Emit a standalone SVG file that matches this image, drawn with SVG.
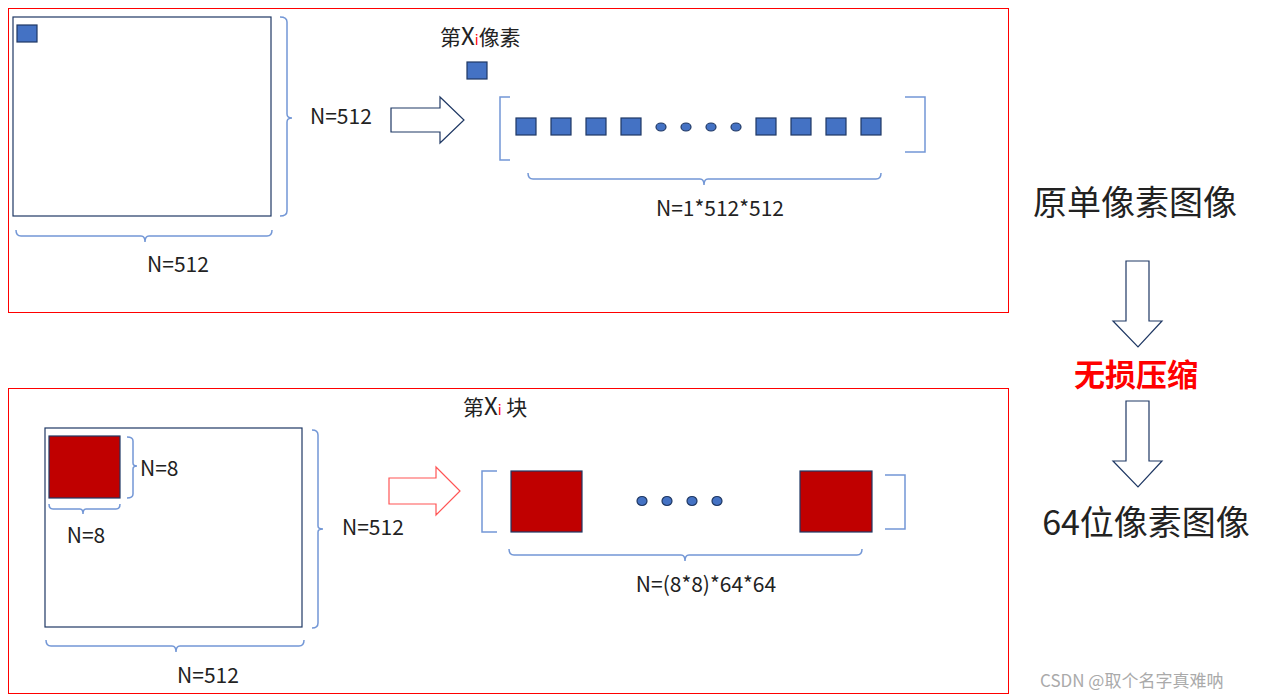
<svg xmlns="http://www.w3.org/2000/svg" width="1265" height="700" viewBox="0 0 1265 700">
<style>
text{font-family:"Noto Sans CJK SC","Liberation Sans",sans-serif;fill:#222}
.t{font-size:21px}
.frame{fill:none;stroke:#f00;stroke-width:1}
.br{fill:none;stroke:#7397d6;stroke-width:1.5}
.px{fill:#4472c4;stroke:#1f3864;stroke-width:1.2}
.blk{fill:#c00000;stroke:#1f3864;stroke-width:1.2}
.sq{fill:#fff;stroke:#1f3864;stroke-width:1.2}
</style>
<rect width="1265" height="700" fill="#fff"/>
<g id="top">
<rect class="frame" x="8.5" y="8.5" width="1000" height="304"/>
<rect class="sq" x="13" y="17" width="258" height="199"/>
<rect class="px" x="17" y="25" width="20" height="17"/>
<path class="br" d="M280 17 q7 0 7 5 v92 q0 4 5 4 q-5 0 -5 4 v89 q0 5 -7 5"/>
<text class="t" x="310" y="124">N=512</text>
<path class="br" d="M16 230 q0 6 5 6 h120 q4 0 4 6 q0 -6 4 -6 h118 q5 0 5 -6"/>
<text class="t" x="178" y="272" text-anchor="middle">N=512</text>
<path d="M391 108 h49 v-11 l24 23 l-24 23 v-11 h-49 z" fill="#fff" stroke="#1f3864" stroke-width="1.2"/>
<text class="t" x="440" y="45">第<tspan font-size="24">X</tspan><tspan fill="#f00" font-size="14">i</tspan>像素</text>
<rect class="px" x="467" y="62" width="20" height="17"/>
<path class="br" d="M510 97 h-10 v63 h10"/>
<path class="br" d="M905 97 h20 v55 h-20"/>
<rect class="px" x="516" y="118" width="20" height="17"/>
<rect class="px" x="551" y="118" width="20" height="17"/>
<rect class="px" x="586" y="118" width="20" height="17"/>
<rect class="px" x="621" y="118" width="20" height="17"/>
<ellipse class="px" cx="661" cy="127" rx="5" ry="4"/>
<ellipse class="px" cx="686" cy="127" rx="5" ry="4"/>
<ellipse class="px" cx="711" cy="127" rx="5" ry="4"/>
<ellipse class="px" cx="736" cy="127" rx="5" ry="4"/>
<rect class="px" x="756" y="118" width="20" height="17"/>
<rect class="px" x="791" y="118" width="20" height="17"/>
<rect class="px" x="826" y="118" width="20" height="17"/>
<rect class="px" x="861" y="118" width="20" height="17"/>
<path class="br" d="M528 173 q0 6 5 6 h167 q4 0 4 6 q0 -6 4 -6 h168 q5 0 5 -6"/>
<text class="t" x="720" y="216" text-anchor="middle">N=1*512*512</text>
</g>
<g id="side">
<text x="1135" y="215" font-size="34" text-anchor="middle">原单像素图像</text>
<path d="M1126 261 h23 v60 h13 l-24 26 l-25 -26 h13 z" fill="#fff" stroke="#1f3864" stroke-width="1.2"/>
<text x="1136" y="386" font-size="31" font-weight="bold" text-anchor="middle" style="fill:#f00">无损压缩</text>
<path d="M1126 401 h23 v60 h13 l-24 26 l-25 -26 h13 z" fill="#fff" stroke="#1f3864" stroke-width="1.2"/>
<text x="1146" y="535" font-size="34" text-anchor="middle">64位像素图像</text>
</g>
<g id="bottom">
<rect class="frame" x="8.5" y="388.5" width="1000" height="305"/>
<rect class="sq" x="45" y="428" width="257" height="199"/>
<rect class="blk" x="49" y="436" width="71" height="62"/>
<path class="br" d="M127 437 q6 0 6 4 v22 q0 3 4 3 q-4 0 -4 3 v25 q0 4 -6 4"/>
<text class="t" x="140" y="476">N=8</text>
<path class="br" d="M49 504 q0 5 4 5 h27 q3 0 3 5 q0 -5 3 -5 h30 q4 0 4 -5"/>
<text class="t" x="86" y="543" text-anchor="middle">N=8</text>
<path class="br" d="M312 430 q6 0 6 5 v91 q0 3 5 3 q-5 0 -5 3 v91 q0 5 -6 5"/>
<text class="t" x="342" y="535">N=512</text>
<path class="br" d="M46 640 q0 6 5 6 h121 q4 0 4 6 q0 -6 4 -6 h119 q5 0 5 -6"/>
<text class="t" x="208" y="683" text-anchor="middle">N=512</text>
<path d="M389 478 h47 v-11 l24 24 l-24 24 v-11 h-47 z" fill="#fff" stroke="#f55" stroke-width="1.2"/>
<text class="t" x="463" y="415">第<tspan font-size="24">X</tspan><tspan fill="#f00" font-size="14">i</tspan> 块</text>
<path class="br" d="M497 471 h-15 v61 h15"/>
<rect class="blk" x="511" y="471" width="71" height="61"/>
<ellipse class="px" cx="642" cy="501" rx="5" ry="4.5"/>
<ellipse class="px" cx="667" cy="501" rx="5" ry="4.5"/>
<ellipse class="px" cx="692" cy="501" rx="5" ry="4.5"/>
<ellipse class="px" cx="717" cy="501" rx="5" ry="4.5"/>
<rect class="blk" x="800" y="471" width="72" height="61"/>
<path class="br" d="M885 475 h20 v54 h-20"/>
<path class="br" d="M509 549 q0 6 5 6 h167 q4 0 4 6 q0 -6 4 -6 h168 q5 0 5 -6"/>
<text class="t" x="706" y="592" text-anchor="middle">N=(8*8)*64*64</text>
</g>
<text x="1040" y="687" font-size="17" style="fill:#aaa">CSDN @取个名字真难呐</text>
</svg>
